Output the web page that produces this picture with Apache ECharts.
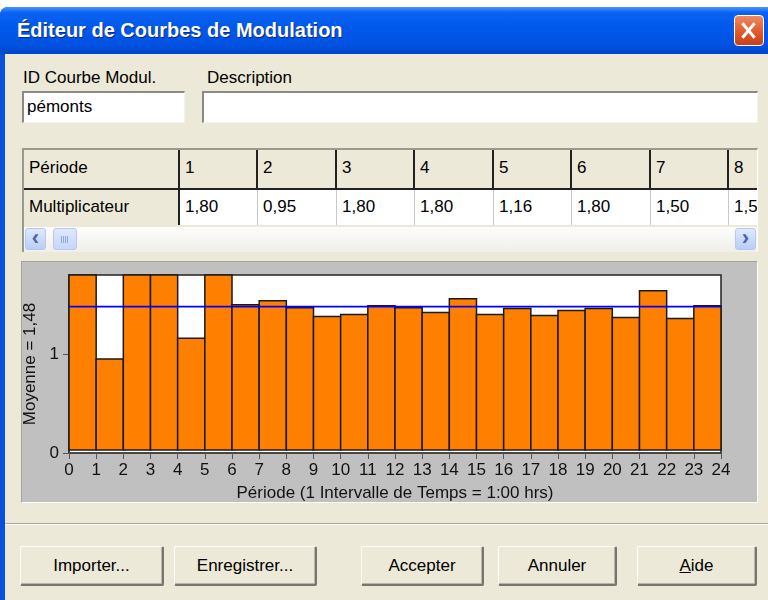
<!DOCTYPE html>
<html>
<head>
<meta charset="utf-8">
<script src="https://cdn.jsdelivr.net/npm/echarts@6/dist/echarts.min.js"></script>
<style>
  body { margin: 0; width: 768px; height: 600px; overflow: hidden; background: #fff; position: relative;
         font-family: "Liberation Sans", Arial, sans-serif; font-size: 17px; color: #000; }
  .abs { position: absolute; }
  .frame { left: 0; top: 7px; width: 800px; height: 600px; background: #0a50dc; border-radius: 8px 8px 0 0; }
  .title { left: 0; top: 7px; width: 800px; height: 47px; border-radius: 8px 8px 0 0;
           background: linear-gradient(#4a95ff 0, #0a62f2 12%, #0058ea 45%, #0052e2 80%, #0044c8 100%); }
  .title span { position: absolute; left: 17px; top: 12px; color: #fff; font-weight: bold; font-size: 20px;
                text-shadow: 1px 1px 0 #0a2a7a; }
  .close { left: 734px; top: 15px; width: 30px; height: 31px; border: 1px solid #fff; border-radius: 4px; box-sizing: border-box;
           background: linear-gradient(#ef8a5c, #e05a2b 55%, #c8401a); }
  .close:before, .close:after { content: ""; position: absolute; left: 12px; top: 5px; width: 3px; height: 19px; background: #fff; }
  .close:before { transform: rotate(40deg); }
  .close:after { transform: rotate(-40deg); }
  .panel { left: 5px; top: 54px; width: 763px; height: 546px; background: #ece9d8; }
  .label { line-height: 20px; }
  .edit { background: #fff; box-sizing: border-box; border-top: 2px solid #8a8a84; border-left: 2px solid #8a8a84;
          border-right: 1px solid #f4f3ee; border-bottom: 1px solid #f4f3ee; padding-left: 3px; line-height: 28px; }
  .grid { left: 22px; top: 148px; width: 736px; height: 104px; overflow: hidden; background: #ece9d8;
          box-sizing: border-box; border-top: 2px solid #9a998f; border-left: 2px solid #9a998f; border-right: 1px solid #fff; }
  .cell { position: absolute; box-sizing: border-box; padding-left: 5px; }
  .hd { background: #ece9d8; border-right: 2px solid #222; border-bottom: 2px solid #222; height: 40px; line-height: 36px; }
  .vl { background: #fff; border-right: 1px solid #c8c8c8; height: 35px; line-height: 33px; }
  .vl.first { background: #ece9d8; border-right: 2px solid #222; }
  .scroll { left: 0; top: 77px; width: 734px; height: 25px; background: linear-gradient(#fdfdfb, #f0efe8); }
  .sbtn { position: absolute; top: 1px; width: 21px; height: 22px; box-sizing: border-box; border: 1px solid #b6c8f0; border-radius: 3px;
          background: linear-gradient(#dfe9fd, #b9cdf7); color: #4d61a9; font-weight: bold; font-size: 22px; line-height: 18px; text-align: center; }
  .thumb { position: absolute; left: 29px; top: 1px; width: 24px; height: 22px; box-sizing: border-box; border: 1px solid #b6c8f0; border-radius: 3px;
           background: linear-gradient(#dfe9fd, #c6d6f8); }
  .thumb:after { content: ""; position: absolute; left: 7px; top: 7px; width: 8px; height: 7px;
                 background: repeating-linear-gradient(90deg, #90a8e0 0 1px, transparent 1px 2px); }
  .chartbox { left: 21px; top: 261px; width: 737px; height: 242px; background: #c0c0c0; box-sizing: border-box;
              border-top: 1px solid #a6a59c; border-left: 1px solid #a6a59c; border-right: 1px solid #fff; border-bottom: 1px solid #fff; }
  #chart { position: absolute; left: 0; top: 0; width: 735px; height: 240px; }
  .sep1 { left: 5px; top: 523px; width: 763px; height: 1px; background: #aca899; }
  .sep2 { left: 5px; top: 524px; width: 763px; height: 1px; background: #fff; }
  .btn { top: 546px; height: 40px; box-sizing: border-box; text-align: center; line-height: 38px; background: #ece9d8;
         border-top: 1px solid #fff; border-left: 1px solid #fff; border-right: 2px solid #77766e; border-bottom: 2px solid #77766e;
         box-shadow: inset -1px -1px 0 #b8b6aa; border-radius: 2px; }
</style>
</head>
<body>
<div class="abs frame"></div>
<div class="abs title"><span>Éditeur de Courbes de Modulation</span></div>
<div class="abs close"></div>
<div class="abs panel"></div>

<div class="abs label" style="left:23px;top:68px;">ID Courbe Modul.</div>
<div class="abs label" style="left:207px;top:68px;">Description</div>
<div class="abs edit" style="left:22px;top:91px;width:163px;height:32px;">pémonts</div>
<div class="abs edit" style="left:202px;top:91px;width:556px;height:32px;"></div>

<div class="abs grid" id="grid">
  <div class="abs scroll">
    <div class="sbtn" style="left:1px;">&lsaquo;</div>
    <div class="thumb"></div>
    <div class="sbtn" style="left:711px;">&rsaquo;</div>
  </div>
</div>

<div class="abs chartbox"><div id="chart"></div></div>

<div class="abs sep1"></div>
<div class="abs sep2"></div>
<div class="abs btn" style="left:20px;width:144px;">Importer...</div>
<div class="abs btn" style="left:174px;width:143px;">Enregistrer...</div>
<div class="abs btn" style="left:361px;width:123px;">Accepter</div>
<div class="abs btn" style="left:498px;width:119px;">Annuler</div>
<div class="abs btn" style="left:637px;width:120px;"><u>A</u>ide</div>

<script>
// periodes (intervalles de 1 h) et multiplicateurs
const periods = [1, 2, 3, 4, 5, 6, 7, 8, 9, 10, 11, 12, 13, 14, 15, 16, 17, 18, 19, 20, 21, 22, 23, 24]
const multipliers = [1.80, 0.95, 1.80, 1.80, 1.16, 1.80, 1.50, 1.54, 1.47, 1.38, 1.40, 1.49,
                     1.47, 1.42, 1.56, 1.40, 1.46, 1.39, 1.44, 1.46, 1.37, 1.64, 1.36, 1.49]
const meanValue = 1.48
const xTicks = [0, 1, 2, 3, 4, 5, 6, 7, 8, 9, 10, 11, 12, 13, 14, 15, 16, 17, 18, 19, 20, 21, 22, 23, 24]
const yTicks = [0, 1]
const yMax = 1.8

const fmt = v => v.toFixed(2).replace('.', ',')

// tableau Période / Multiplicateur
const colX = [0, 156, 234, 313, 391, 470, 548, 627, 705]
const grid = document.getElementById('grid')
function addCell(cls, x, y, w, text) {
  const d = document.createElement('div')
  d.className = 'cell ' + cls
  d.style.left = x + 'px'
  d.style.top = y + 'px'
  d.style.width = w + 'px'
  d.textContent = text
  grid.appendChild(d)
}
addCell('hd', colX[0], 0, colX[1] - colX[0], 'Période')
addCell('vl first', colX[0], 40, colX[1] - colX[0], 'Multiplicateur')
for (let k = 1; k < colX.length; k++) {
  const w = (colX[k + 1] || colX[k] + 79) - colX[k]
  addCell('hd', colX[k], 0, w, String(periods[k - 1]))
  addCell('vl', colX[k], 40, w, fmt(multipliers[k - 1]))
}

const chart = echarts.init(document.getElementById('chart'))
const font = '"Liberation Sans", Arial, sans-serif'

const option = {
  animation: false,
  grid: {
    left: 47, right: 36, top: 13, bottom: 49,
    outerBoundsMode: 'none',
    containLabel: false,
    show: true,
    backgroundColor: '#fff',
    borderColor: '#222',
    borderWidth: 1.5
  },
  xAxis: {
    type: 'value',
    min: xTicks[0],
    max: xTicks[xTicks.length - 1],
    interval: 1,
    name: 'Période (1 Intervalle de Temps = 1:00 hrs)',
    nameLocation: 'middle',
    nameGap: 32,
    nameTextStyle: { fontFamily: font, fontSize: 17, color: '#111' },
    axisLine: { lineStyle: { color: '#444', width: 1.5 } },
    axisTick: { length: 6, lineStyle: { color: '#555' } },
    axisLabel: { fontFamily: font, fontSize: 17, color: '#111', margin: 9 },
    splitLine: { show: false }
  },
  yAxis: {
    type: 'value',
    min: 0,
    max: yMax,
    name: 'Moyenne = ' + fmt(meanValue),
    nameLocation: 'middle',
    nameGap: 21,
    nameTextStyle: { fontFamily: font, fontSize: 17, color: '#111' },
    axisLine: { show: true, lineStyle: { color: '#333', width: 1.5 } },
    axisTick: { show: true, length: 6, customValues: yTicks, lineStyle: { color: '#555' } },
    axisLabel: { fontFamily: font, fontSize: 17, color: '#111', margin: 10, customValues: yTicks },
    splitLine: { show: false }
  },
  series: [
    {
      type: 'custom',
      data: periods.map((p, k) => [p, multipliers[k]]),
      renderItem(params, api) {
        const p = api.value(0)
        const v = api.value(1)
        const lo = api.coord([p - 1, 0])
        const hi = api.coord([p, v])
        return {
          type: 'rect',
          shape: { x: lo[0], y: hi[1], width: hi[0] - lo[0], height: lo[1] - hi[1] - 3 },
          style: { fill: '#ff8000', stroke: '#1a1a1a', lineWidth: 1.5 }
        }
      },
      z: 2
    },
    {
      type: 'line',
      data: [[xTicks[0], meanValue], [xTicks[xTicks.length - 1], meanValue]],
      showSymbol: false,
      symbol: 'none',
      lineStyle: { color: '#0000ff', width: 1.8 },
      z: 5
    }
  ]
}

chart.setOption(option)
</script>
</body>
</html>
